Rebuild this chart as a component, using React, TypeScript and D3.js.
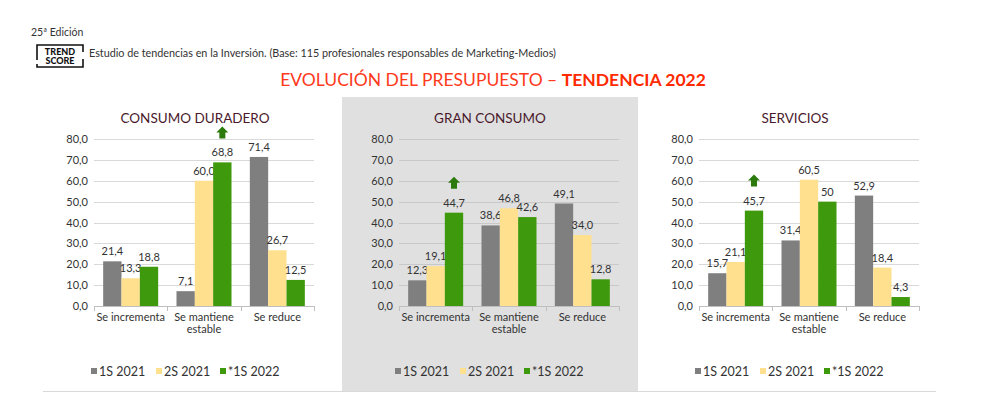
import React, { useRef, useEffect } from "react";
import * as d3 from "d3";

const categories = ["Se incrementa", "Se mantiene\nestable", "Se reduce"];
const series = ["1S 2021", "2S 2021", "*1S 2022"];
const colors = ["#7f7f7f", "#ffe08f", "#3f990c"];
const yTicks = [0, 10, 20, 30, 40, 50, 60, 70, 80];

const panelTitles = ["CONSUMO DURADERO", "GRAN CONSUMO", "SERVICIOS"];

// values per series, per category (labels as shown)
const consumoDuradero = [
  ["21,4", "7,1", "71,4"],
  ["13,3", "60,0", "26,7"],
  ["18,8", "68,8", "12,5"],
];
const granConsumo = [
  ["12,3", "38,6", "49,1"],
  ["19,1", "46,8", "34,0"],
  ["44,7", "42,6", "12,8"],
];
const servicios = [
  ["15,7", "31,4", "52,9"],
  ["21,1", "60,5", "18,4"],
  ["45,7", "50", "4,3"],
];
const panelData = [consumoDuradero, granConsumo, servicios];
// category index that gets the green arrow in each panel
const arrowCategory = [1, 0, 0];

const num = (s) => +s.replace(",", ".");
const fmtTick = (v) => v.toFixed(1).replace(".", ",");

const App = () => {
  const ref = useRef(null);

  useEffect(() => {
    const svg = d3.select(ref.current);
    svg.selectAll("*").remove();
    const font = "Lato, 'Open Sans', sans-serif";

    // header
    svg.append("text").attr("x", 31).attr("y", 36).text("25ª Edición")
      .style("font", `10.5px ${font}`).attr("fill", "#333");

    const logo = svg.append("g").attr("transform", "translate(37,45)");
    logo.append("path")
      .attr("d", "M0,15 V0 H46 V7 M46,14 V22 H0 V19")
      .attr("fill", "none").attr("stroke", "#111").attr("stroke-width", 1.6);
    logo.append("text").attr("x", 23).attr("y", 10).attr("text-anchor", "middle")
      .text("TREND").style("font", `900 9px ${font}`).attr("fill", "#111");
    logo.append("text").attr("x", 23).attr("y", 19).attr("text-anchor", "middle")
      .text("SCORE").style("font", `900 9px ${font}`).attr("fill", "#111");

    svg.append("text").attr("x", 89).attr("y", 57)
      .text("Estudio de tendencias en la Inversión. (Base: 115 profesionales responsables de Marketing-Medios)")
      .style("font", `10.8px ${font}`).attr("fill", "#333");

    const title = svg.append("text").attr("x", 493).attr("y", 86)
      .attr("text-anchor", "middle").style("font", `17.5px ${font}`).attr("fill", "#ff3a1c");
    title.append("tspan").text("EVOLUCIÓN DEL PRESUPUESTO – ");
    title.append("tspan").text("TENDENCIA 2022").attr("font-weight", "bold").attr("fill", "#ff2a00");

    // grey middle panel and bottom rule
    svg.append("rect").attr("x", 342).attr("y", 97).attr("width", 296).attr("height", 294).attr("fill", "#e0e0e0");
    svg.append("line").attr("x1", 43).attr("x2", 936).attr("y1", 391.5).attr("y2", 391.5)
      .attr("stroke", "#d9d9d9").attr("stroke-width", 1);

    const y = d3.scaleLinear().domain([0, 80]).range([306, 139]);
    const plotLefts = [94, 399, 699];
    const plotWidth = 220;
    const titleCenters = [195, 490, 795];
    const legendStarts = [91, 395, 695];

    panelData.forEach((data, p) => {
      const g = svg.append("g");
      const x0 = d3.scaleBand().domain(categories).range([plotLefts[p], plotLefts[p] + plotWidth]);
      const x1 = d3.scaleBand().domain(series).range([0, x0.bandwidth()]).paddingOuter(0.5);

      g.append("text").attr("x", titleCenters[p]).attr("y", 123).attr("text-anchor", "middle")
        .text(panelTitles[p]).style("font", `13.5px ${font}`).attr("fill", "#4a1a2c");

      // gridlines + tick labels
      yTicks.forEach((t) => {
        if (t > 0) {
          g.append("line").attr("x1", plotLefts[p]).attr("x2", plotLefts[p] + plotWidth)
            .attr("y1", Math.round(y(t)) + 0.5).attr("y2", Math.round(y(t)) + 0.5)
            .attr("stroke", p === 1 ? "#c8c8c8" : "#d9d9d9");
        }
        g.append("text").attr("x", plotLefts[p] - 6).attr("y", y(t) + 4)
          .attr("text-anchor", "end").text(fmtTick(t))
          .style("font", `11px ${font}`).attr("fill", "#333");
      });

      // bars
      series.forEach((s, si) => {
        g.selectAll(null).data(data[si]).join("rect")
          .attr("x", (d, ci) => x0(categories[ci]) + x1(s))
          .attr("y", (d) => y(num(d)))
          .attr("width", x1.bandwidth())
          .attr("height", (d) => y(0) - y(num(d)))
          .attr("fill", colors[si]);
        g.selectAll(null).data(data[si]).join("text")
          .attr("x", (d, ci) => x0(categories[ci]) + x1(s) + x1.bandwidth() / 2)
          .attr("y", (d) => y(num(d)) - 6)
          .attr("text-anchor", "middle").text((d) => d)
          .style("font", `11px ${font}`).attr("fill", "#333");
      });

      // x axis
      g.append("line").attr("x1", plotLefts[p]).attr("x2", plotLefts[p] + plotWidth)
        .attr("y1", 306.5).attr("y2", 306.5).attr("stroke", "#bfbfbf");
      [0, 1, 2, 3].forEach((i) => {
        const xx = Math.round(plotLefts[p] + x0.step() * i) + 0.5;
        g.append("line").attr("x1", xx).attr("x2", xx).attr("y1", 306).attr("y2", 311).attr("stroke", "#bfbfbf");
      });
      categories.forEach((c) => {
        const t = g.append("text").attr("x", x0(c) + x0.bandwidth() / 2).attr("y", 321)
          .attr("text-anchor", "middle").style("font", `11px ${font}`).attr("fill", "#333");
        c.split("\n").forEach((line, li) => {
          t.append("tspan").attr("x", x0(c) + x0.bandwidth() / 2).attr("dy", li === 0 ? 0 : 11.5).text(line);
        });
      });

      // arrow over the green bar
      const ac = categories[arrowCategory[p]];
      const ax = x0(ac) + x1(series[2]) + x1.bandwidth() / 2;
      const aTop = y(num(data[2][arrowCategory[p]])) - 36;
      g.append("path")
        .attr("d", `M${ax},${aTop} L${ax + 6},${aTop + 6} L${ax + 3},${aTop + 6} L${ax + 3},${aTop + 12} L${ax - 3},${aTop + 12} L${ax - 3},${aTop + 6} L${ax - 6},${aTop + 6} Z`)
        .attr("fill", "#2b7a0b");

      // legend
      const legendX = [0, 65, 129];
      series.forEach((s, si) => {
        const lx = legendStarts[p] + legendX[si];
        g.append("rect").attr("x", lx).attr("y", 368).attr("width", 6).attr("height", 6).attr("fill", colors[si]);
        g.append("text").attr("x", lx + 8).attr("y", 375.5).text(s)
          .style("font", `12.5px ${font}`).attr("fill", "#333");
      });
    });
  }, []);

  return (
    <div style={{ position: "absolute", left: 0, top: 0 }}>
      <svg ref={ref} width={1000} height={399} style={{ display: "block", background: "#fff" }} />
    </div>
  );
};

export default App;
